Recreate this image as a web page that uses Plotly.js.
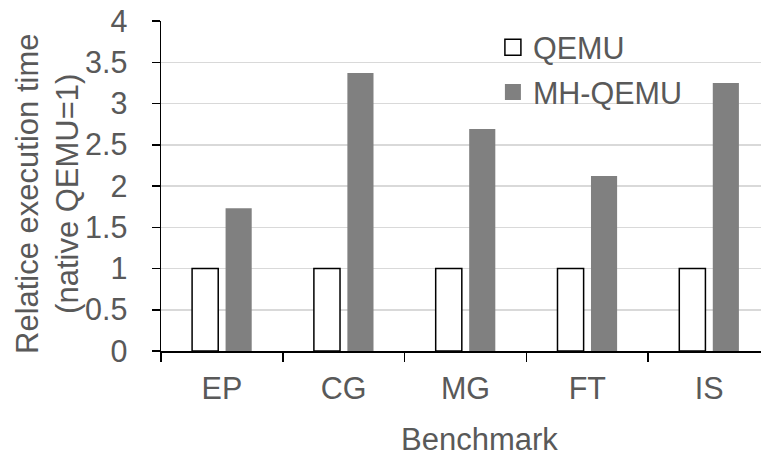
<!DOCTYPE html>
<html>
<head>
<meta charset="utf-8">
<script src="https://cdn.plot.ly/plotly-3.0.1.min.js"></script>
<style>
html, body { margin: 0; padding: 0; overflow: hidden; background: #fff; }
#chart { width: 772px; height: 457px; }
</style>
</head>
<body>
<div id="chart"></div>
<script>
var benchmarks = ["EP", "CG", "MG", "FT", "IS"];
var qemuValues = [1, 1, 1, 1, 1];
var mhQemuValues = [1.73, 3.37, 2.69, 2.12, 3.25];
var seriesNames = ["QEMU", "MH-QEMU"];
var yTickValues = [0, 0.5, 1, 1.5, 2, 2.5, 3, 3.5, 4];
var yTickLabels = ["0", "0.5", "1", "1.5", "2", "2.5", "3", "3.5", "4"];
var xTitle = "Benchmark";
var yTitle = "Relatice execution time<br>(native QEMU=1)";

var textColor = "#595959";
var fontFamily = "Liberation Sans, Arial, sans-serif";
var fs = 30.5;

var traces = [
  {
    type: "bar",
    name: seriesNames[0],
    x: benchmarks,
    y: qemuValues,
    marker: { color: "#ffffff", line: { color: "#000000", width: 1.5 } },
    showlegend: false
  },
  {
    type: "bar",
    name: seriesNames[1],
    x: benchmarks,
    y: mhQemuValues,
    marker: { color: "#808080", line: { color: "#808080", width: 0 } },
    showlegend: false
  },
  {
    type: "scatter",
    mode: "markers",
    name: seriesNames[0],
    x: [null], y: [null],
    marker: { symbol: "square", size: 16, color: "#ffffff", line: { color: "#000000", width: 1.5 } },
    legendgroup: "a",
    hoverinfo: "skip"
  },
  {
    type: "scatter",
    mode: "markers",
    name: seriesNames[1],
    x: [null], y: [null],
    marker: { symbol: "square", size: 16, color: "#808080", line: { color: "#808080", width: 0 } },
    legendgroup: "b",
    hoverinfo: "skip"
  }
];

var layout = {
  width: 772,
  height: 457,
  margin: { l: 161, r: 2, t: 21, b: 106 },
  paper_bgcolor: "#ffffff",
  plot_bgcolor: "#ffffff",
  font: { family: fontFamily, size: fs, color: textColor },
  barmode: "group",
  bargap: 0.45,
  bargroupgap: 0.22,
  showlegend: true,
  legend: {
    x: 0.545, y: 1.0, xanchor: "left", yanchor: "top",
    bgcolor: "rgba(0,0,0,0)",
    font: { family: fontFamily, size: fs, color: textColor },
    tracegroupgap: 2,
    itemwidth: 30
  },
  xaxis: {
    type: "category",
    tickson: "boundaries",
    ticks: "outside",
    ticklen: 9,
    tickwidth: 1.5,
    tickcolor: "#000000",
    ticklabelstandoff: 10,
    showline: true,
    linecolor: "#000000",
    linewidth: 1.5,
    showgrid: false,
    tickfont: { family: fontFamily, size: fs, color: textColor }
  },
  yaxis: {
    range: [0, 4],
    tickmode: "array",
    tickvals: yTickValues,
    ticktext: yTickLabels,
    ticks: "outside",
    ticklen: 8,
    tickwidth: 1.5,
    tickcolor: "#000000",
    ticklabelstandoff: 18,
    showline: true,
    linecolor: "#000000",
    linewidth: 1.5,
    showgrid: true,
    gridcolor: "#d9d9d9",
    gridwidth: 1.5,
    zeroline: false,
    tickfont: { family: fontFamily, size: fs, color: textColor }
  },
  annotations: [
    {
      text: xTitle,
      xref: "paper", yref: "paper",
      x: (479 - 161) / 609, y: (351 - 439) / 330,
      xanchor: "center", yanchor: "middle",
      showarrow: false,
      font: { family: fontFamily, size: 31, color: textColor }
    },
    {
      text: yTitle,
      xref: "paper", yref: "paper",
      x: (48 - 161) / 609, y: (351 - 194) / 330,
      xanchor: "center", yanchor: "middle",
      textangle: -90,
      showarrow: false,
      font: { family: fontFamily, size: 31, color: textColor }
    }
  ]
};

Plotly.newPlot("chart", traces, layout, { displayModeBar: false, staticPlot: true });
</script>
</body>
</html>
